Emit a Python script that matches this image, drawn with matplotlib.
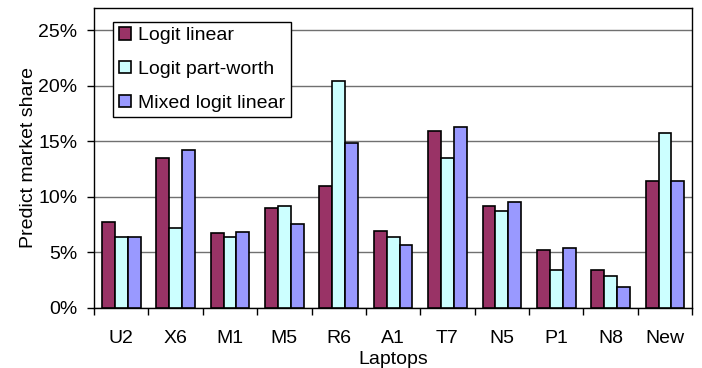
import numpy as np
import matplotlib.pyplot as plt
from matplotlib.ticker import FixedLocator, FuncFormatter

plt.rcParams['font.family'] = ['Liberation Sans', 'DejaVu Sans']

laptops = ['U2', 'X6', 'M1', 'M5', 'R6', 'A1', 'T7', 'N5', 'P1', 'N8', 'New']
series_names = ['Logit linear', 'Logit part-worth', 'Mixed logit linear']
logit_linear = [7.7, 13.5, 6.7, 9.0, 11.0, 6.95, 15.95, 9.15, 5.2, 3.35, 11.45]
logit_partworth = [6.35, 7.2, 6.35, 9.15, 20.45, 6.35, 13.45, 8.7, 3.35, 2.85, 15.7]
mixed_linear = [6.35, 14.2, 6.8, 7.55, 14.8, 5.65, 16.25, 9.55, 5.35, 1.85, 11.45]
colors = ['#993366', '#CCFFFF', '#9999FF']
fs = 14

fig = plt.figure(figsize=(7.02, 3.68), dpi=100)
ax = fig.add_axes([0.134, 0.164, 0.852, 0.814])

x = np.arange(len(laptops))
w = 0.237
for i, (vals, name, c) in enumerate(zip([logit_linear, logit_partworth, mixed_linear],
                                        series_names, colors)):
    ax.bar(x + (i - 1) * w, np.array(vals) / 100, w, color=c, edgecolor='black',
           linewidth=1.2, label=name, zorder=3)

ax.set_xlim(-0.5, len(laptops) - 0.5)
ax.set_ylim(0, 0.27)

# category labels in the middle, tick marks between categories
ax.xaxis.set_major_locator(FixedLocator(np.arange(-0.5, len(laptops), 1.0)))
ax.xaxis.set_minor_locator(FixedLocator(x))
ax.set_xticklabels([])
ax.set_xticklabels(laptops, minor=True)
ax.tick_params(axis='x', which='major', direction='out', length=5, width=1)
ax.tick_params(axis='x', which='minor', length=0, pad=16, labelsize=fs)

ax.set_yticks(np.arange(0, 0.26, 0.05))
ax.yaxis.set_major_formatter(FuncFormatter(lambda v, p: '%d%%' % round(v * 100)))
ax.tick_params(axis='y', direction='out', length=5, width=1, pad=7, labelsize=fs)
ax.grid(axis='y', color='#707070', linewidth=1, zorder=0)

for s in ax.spines.values():
    s.set_color('black')
    s.set_linewidth(1)

ax.set_xlabel('Laptops', fontsize=fs, labelpad=3)
ax.set_ylabel('Predict market share', fontsize=fs, labelpad=1)

leg = ax.legend(loc='upper left', bbox_to_anchor=(0.032, 0.955), fontsize=fs,
                fancybox=False, framealpha=1, edgecolor='black',
                handlelength=0.6, handleheight=0.6, handletextpad=0.4,
                labelspacing=0.85, borderpad=0.3, borderaxespad=0)
leg.get_frame().set_linewidth(1)

fig.savefig('out.png', dpi=100)
